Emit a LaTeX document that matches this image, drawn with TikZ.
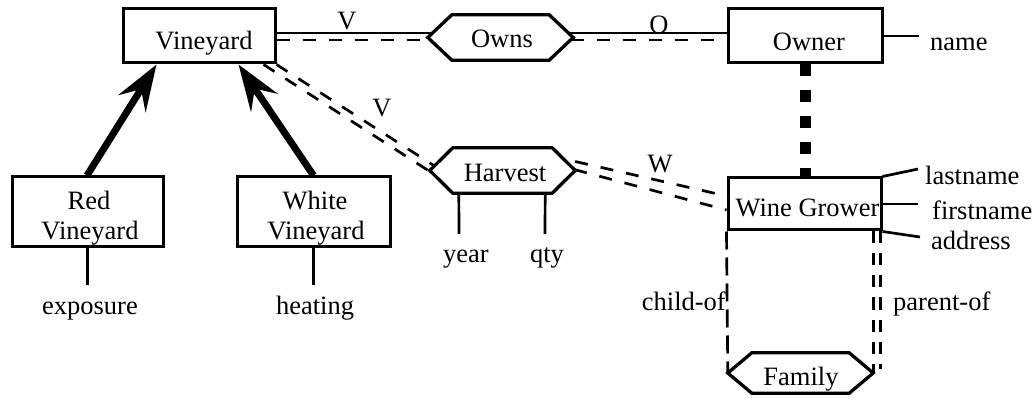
\documentclass[tikz,border=0pt]{standalone}
\usepackage{fontspec}
\setmainfont{Liberation Serif}
\usetikzlibrary{arrows.meta,calc}
\newcommand\hexpath[2]{\draw[hexline] (#1.west) -- ($(#1.north west)+(#2,0)$) -- ($(#1.north east)+(-#2,0)$) -- (#1.east) -- ($(#1.south east)+(-#2,0)$) -- ($(#1.south west)+(#2,0)$) -- cycle;}
\begin{document}
\begin{tikzpicture}[x=1pt,y=-1pt,
  lbl/.style={font=\fontsize{26.5}{30}\selectfont, inner sep=0pt, anchor=base},
  lblw/.style={lbl, anchor=base west},
  lble/.style={lbl, anchor=base east},
  entity/.style={draw, line width=3pt, inner sep=0pt},
  relnode/.style={inner sep=0pt, minimum width=145pt, minimum height=45pt},
  hexline/.style={line width=3.3pt, line join=miter},
  conn/.style={line width=2.7pt},
  dconn/.style={line width=2.7pt, dash pattern=on 13pt off 13pt},
  attr/.style={line width=2.7pt},
  isa/.style={line width=7pt, -{Stealth[length=46pt, width=32pt, inset=17pt]}},
  heavydash/.style={line width=11pt, dash pattern=on 12pt off 14pt},
  famleft/.style={line width=2.7pt, dash pattern=on 18pt off 8pt},
  famright/.style={line width=2.7pt, dash pattern=on 12pt off 10pt},
]
\useasboundingbox (0,0) rectangle (1034,398);

% entities
\node[entity, minimum width=152pt, minimum height=54pt] (vy) at (199,36) {};
\node[lbl] (vyt) at (204,50) {Vineyard};
\node[entity, minimum width=154pt, minimum height=54pt] (oe) at (805,36) {};
\node[lbl] (oet) at (809,51) {Owner};
\node[entity, minimum width=153pt, minimum height=52pt] (wg) at (804.5,204) {};
\node[lbl] (wgt) at (807.5,217) {Wine Grower};
\node[entity, minimum width=151pt, minimum height=70pt] (rv) at (87.5,212) {};
\node[lbl] (rvt1) at (89,210) {Red};
\node[lbl] (rvt2) at (90,240) {Vineyard};
\node[entity, minimum width=153pt, minimum height=70pt] (wv) at (313.5,212) {};
\node[lbl] (wvt1) at (315,210) {White};
\node[lbl] (wvt2) at (316,240) {Vineyard};

% relationships
\node[relnode] (ow) at (500.5,37.5) {};
\hexpath{ow}{24}
\node[lbl] (owt) at (502,48) {Owns};
\node[relnode] (hv) at (502.5,170.5) {};
\hexpath{hv}{23}
\node[lbl] (hvt) at (505,182) {Harvest};
\node[relnode, minimum height=40pt] (fm) at (800.5,373) {};
\hexpath{fm}{24}
\node[lbl] (fmt) at (801,385) {Family};

% Vineyard -- Owns -- Owner
\draw[conn] ($(vy.east)+(0,-3)$) -- ($(ow.west)+(4.5,-4.5)$);
\draw[dconn] ($(vy.east)+(0,4)$) -- ($(ow.west)+(2.5,2.5)$);
\draw[conn] ($(ow.east)+(-4.5,-4.5)$) -- ($(oe.west)+(0,-3)$);
\draw[dconn] ($(ow.east)+(-2.5,2.5)$) -- ($(oe.west)+(0,4)$);
\node[lbl] (lv1) at (347,30) {V};
\node[lbl] (lo) at (659,34) {O};

% Owner -- Wine Grower
\draw[heavydash] (oe.south) -- (oe.south |- wg.north);

% Vineyard -- Harvest -- Wine Grower
\draw[dconn] (vy.south east) -- ($(hv.west)+(5.5,-4)$);
\draw[dconn] ($(vy.south east)+(-13,0)$) -- ($(hv.west)+(0,1)$);
\node[lbl] (lv2) at (382,117) {V};
\draw[dconn] ($(hv.east)+(0,-9)$) -- ($(wg.west)+(0,-8)$);
\draw[dconn] ($(hv.east)+(-1,-1)$) -- ($(wg.west)+(0,6)$);
\node[lbl] (lw) at (660,173) {W};

% Wine Grower -- Family
\draw[famleft] (wg.south west) -- (fm.west);
\draw[famright] (fm.east |- wg.south) -- (fm.east);
\draw[famright] ($(fm.east |- wg.south)+(7,0)$) -- ($(fm.east)+(7,-4)$);
\node[lble] (lc) at (726,310) {child-of};
\node[lblw] (lp) at (893,310) {parent-of};

% ISA arrows
\draw[isa] ($(rv.north)+(-0.5,0)$) -- ($(vy.south west)+(35,0)$);
\draw[isa] (wv.north) -- ($(vy.south east)+(-38,0)$);

% attributes
\coordinate (nameend) at (919,36);
\draw[attr] (oe.east) -- (nameend);
\node[lblw] (aname) at (930,51) {name};
\coordinate (lnend) at (918,169);
\draw[attr] (wg.north east) -- (lnend);
\node[lblw] (alast) at (925,185) {lastname};
\coordinate (fnend) at (918,204);
\draw[attr] (wg.east) -- (fnend);
\node[lblw] (afirst) at (932,220) {firstname};
\coordinate (adend) at (920,237);
\draw[attr] (wg.south east) -- (adend);
\node[lblw] (aaddr) at (931,250) {address};

\coordinate (yrend) at (459,234);
\draw[attr] ($(hv.south west)+(29,0)$) -- (yrend);
\node[lbl] (ayear) at (466,263) {year};
\coordinate (qtend) at (545,234);
\draw[attr] ($(hv.south east)+(-30,0)$) -- (qtend);
\node[lbl] (aqty) at (547,263) {qty};

\coordinate (exend) at (87.5,285);
\draw[attr] (rv.south) -- (exend);
\node[lbl] (aexp) at (90,315) {exposure};
\coordinate (heend) at (313.5,285);
\draw[attr] (wv.south) -- (heend);
\node[lbl] (aheat) at (315,315) {heating};
\end{tikzpicture}
\end{document}
